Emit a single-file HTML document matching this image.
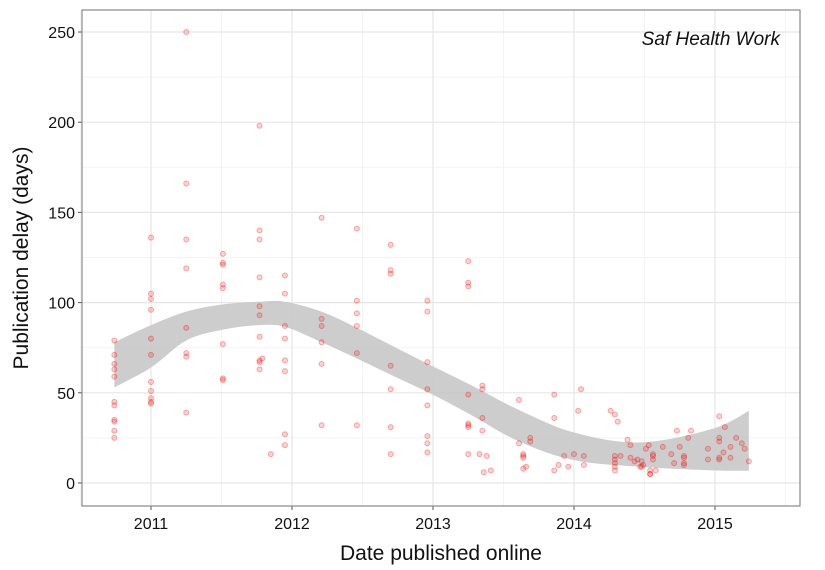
<!DOCTYPE html>
<html><head><meta charset="utf-8"><style>
body{margin:0;background:#fff}
svg{display:block;font-family:"Liberation Sans",sans-serif}
</style></head><body>
<svg id="chart" width="825" height="570"></svg>
<script>
const xTicks=[2011,2012,2013,2014,2015];
const yTicks=[0,50,100,150,200,250];
const ptX=[2010.74,2010.74,2010.74,2010.74,2010.74,2010.74,2010.74,2010.74,2010.74,2010.74,2010.74,
2011,2011,2011,2011,2011,2011,2011,2011,2011,2011,2011,
2011.25,2011.25,2011.25,2011.25,2011.25,2011.25,2011.25,2011.25,
2011.51,2011.51,2011.51,2011.51,2011.51,2011.51,2011.51,2011.51,
2011.77,2011.77,2011.77,2011.77,2011.77,2011.77,2011.77,2011.79,2011.77,2011.77,2011.77,
2011.95,2011.95,2011.95,2011.95,2011.95,2011.95,2011.95,2011.95,2011.85,
2012.21,2012.21,2012.21,2012.21,2012.21,2012.21,
2012.46,2012.46,2012.46,2012.46,2012.46,2012.46,
2012.70,2012.70,2012.70,2012.70,2012.70,2012.70,2012.70,
2012.96,2012.96,2012.96,2012.96,2012.96,2012.96,2012.96,2012.96,
2013.25,2013.25,2013.25,2013.25,2013.25,2013.25,2013.25,2013.25,
2013.35,2013.35,2013.35,2013.35,2013.33,2013.38,2013.36,2013.41,
2013.61,2013.61,2013.64,2013.64,2013.64,2013.64,2013.66,2013.69,2013.69,
2013.86,2013.86,2013.86,2013.89,2013.93,2013.96,2014.0,2014.03,2014.05,2014.07,2014.07,
2014.26,2014.29,2014.31,2014.29,2014.29,2014.29,2014.29,2014.29,2014.33,2014.38,2014.40,2014.40,2014.43,2014.45,2014.47,2014.48,2014.48,2014.49,2014.51,
2014.54,2014.54,2014.54,2014.53,2014.56,2014.56,2014.56,2014.58,2014.63,2014.69,2014.71,2014.73,2014.75,2014.78,2014.78,2014.78,2014.78,2014.81,2014.83,
2014.95,2014.95,2015.03,2015.03,2015.03,2015.03,2015.03,2015.07,2015.06,2015.11,2015.11,2015.15,2015.19,2015.21,2015.24];
const ptY=[79,71,66,63,59,45,43,35,34,29,25,
136,105,102,96,80,71,56,51,47,45,44,
250,166,135,119,86,72,70,39,
127,122,121,110,108,77,58,57,
198,140,135,114,98,93,81,69,68,67,63,
115,105,87,80,68,62,27,21,16,
147,91,87,78,66,32,
141,101,94,87,72,32,
132,118,116,65,52,31,16,
101,95,67,52,43,26,22,17,
123,111,109,49,33,32,31,16,
54,52,36,29,16,15,6,7,
46,22,16,15,14,8,9,25,23,
36,49,7,10,15,9,16,40,52,10,15,
40,38,34,15,13,11,9,7,15,24,21,14,12,13,9,12,9,10,19,
5,5,7,21,16,15,13,7,20,16,11,29,20,15,14,11,10,25,29,
19,13,37,25,23,14,13,31,17,20,14,25,22,19,12];
const bandX=[2010.74,2011.0,2011.25,2011.51,2011.77,2011.95,2012.21,2012.46,2012.70,2012.98,2013.25,2013.61,2014.0,2014.47,2014.98,2015.24];
const bandHi=[78,87.5,95,99,100.5,100.5,95,86,76.5,65.4,55,40.5,28,22.5,30,40];
const bandLo=[53,64,79,85,87.5,86.6,78,69,60,49.7,38.6,23,12.7,9,7,6.8];

const svg=document.getElementById('chart');
const NS='http://www.w3.org/2000/svg';
const L=82,R=800,T=10,B=506;
const sx=v=>151+(v-2011)*141;
const sy=v=>483-v*1.804;
function mk(tag,attrs,parent){const e=document.createElementNS(NS,tag);for(const k in attrs)e.setAttribute(k,attrs[k]);(parent||svg).appendChild(e);return e;}
const panel=mk('rect',{x:L,y:T,width:R-L,height:B-T,fill:'#fff'});


for(let i=0;i<xTicks.length+1;i++){const v=xTicks[0]-0.5+i;const g=mk('line',{x1:sx(v),x2:sx(v),y1:T,y2:B,stroke:'#f4f4f4','stroke-width':1});

}
for(let i=0;i<yTicks.length;i++){const v=yTicks[i]+25;const g=mk('line',{x1:L,x2:R,y1:sy(v),y2:sy(v),stroke:'#f4f4f4','stroke-width':1});

}
xTicks.forEach(v=>{const g=mk('line',{x1:sx(v),x2:sx(v),y1:T,y2:B,stroke:'#e6e6e6','stroke-width':1.2});


const t=mk('line',{x1:sx(v),x2:sx(v),y1:B,y2:B+4,stroke:'#555'});


const l=mk('text',{x:sx(v),y:B+23,'text-anchor':'middle','font-size':16,fill:'#111'});l.textContent=v;

});
yTicks.forEach(v=>{const g=mk('line',{x1:L,x2:R,y1:sy(v),y2:sy(v),stroke:'#e6e6e6','stroke-width':1.2});


const t=mk('line',{x1:L-4,x2:L,y1:sy(v),y2:sy(v),stroke:'#555'});


const l=mk('text',{x:L-7,y:sy(v)+6,'text-anchor':'end','font-size':16,fill:'#111'});l.textContent=v;

});
function smooth(xs,ys){let d='';const P=xs.map((x,i)=>[sx(x),sy(ys[i])]);
for(let i=0;i<P.length-1;i++){const p0=P[Math.max(0,i-1)],p1=P[i],p2=P[i+1],p3=P[Math.min(P.length-1,i+2)];
const c1=[p1[0]+(p2[0]-p0[0])/6,p1[1]+(p2[1]-p0[1])/6],c2=[p2[0]-(p3[0]-p1[0])/6,p2[1]-(p3[1]-p1[1])/6];
d+=` C${c1[0]},${c1[1]} ${c2[0]},${c2[1]} ${p2[0]},${p2[1]}`;}
return {start:P[0],d};}
const up=smooth(bandX,bandHi);
const lo=smooth(bandX.slice().reverse(),bandLo.slice().reverse());
const band=mk('path',{d:`M${up.start[0]},${up.start[1]}${up.d} L${lo.start[0]},${lo.start[1]}${lo.d} Z`,fill:'#c4c4c4','fill-opacity':0.85});


ptX.forEach((x,i)=>{const c=mk('circle',{cx:sx(x),cy:sy(ptY[i]),r:2.5,fill:'rgba(255,0,0,0.18)',stroke:'rgba(240,0,0,0.32)','stroke-width':1});

});
const border=mk('rect',{x:L,y:T,width:R-L,height:B-T,fill:'none',stroke:'#888','stroke-width':1.2});


const ti=mk('text',{x:780,y:45,'text-anchor':'end','font-size':19,'font-style':'italic',fill:'#111'});ti.textContent='Saf Health Work';


const xt=mk('text',{x:441,y:560,'text-anchor':'middle','font-size':21,fill:'#111'});xt.textContent='Date published online';


const yt=mk('text',{x:0,y:0,'text-anchor':'middle','font-size':21,fill:'#111',transform:'translate(28,258) rotate(-90)'});yt.textContent='Publication delay (days)';


</script>
</body></html>
